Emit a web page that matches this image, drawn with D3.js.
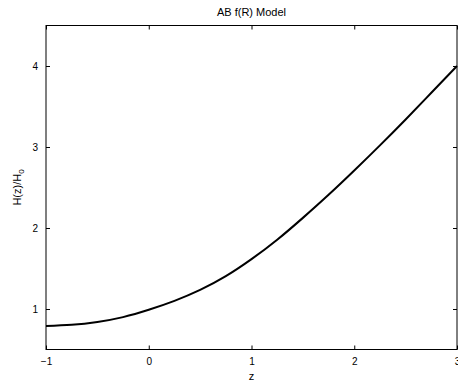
<!DOCTYPE html>
<html><head><meta charset="utf-8">
<script src="https://cdn.jsdelivr.net/npm/d3@7"></script>
<style>body{margin:0;background:#fff}svg{display:block}text{font-family:"Liberation Sans",Arial,sans-serif}</style>
</head><body>
<svg id="c" width="458" height="386"></svg>
<script>
const zValues = [-1, -0.75, -0.5, -0.25, 0, 0.25, 0.5, 0.75, 1, 1.25, 1.5, 1.75, 2, 2.25, 2.5, 2.75, 3];
const hValues = [0.790, 0.805, 0.840, 0.900, 0.990, 1.100, 1.235, 1.405, 1.615, 1.855, 2.125, 2.410, 2.710, 3.020, 3.340, 3.670, 4.0];
const xTicks = [-1, 0, 1, 2, 3];
const yTicks = [1, 2, 3, 4];
const title = "AB f(R) Model";

const svg = d3.select("#c");
const L = 46, R = 457, T = 25.5, B = 349.5;
const x = d3.scaleLinear().domain([-1, 3]).range([L, R]);
const y = d3.scaleLinear().domain([0.5, 4.5]).range([B, T]);
const fmt = d => d < 0 ? "\u2212" + Math.abs(d) : String(d);

const ax = svg.append("g").attr("font-size", 11);
ax.append("g").attr("transform", `translate(0,${B})`)
  .call(d3.axisBottom(x).tickValues(xTicks).tickSizeInner(-4).tickSizeOuter(0).tickPadding(8).tickFormat(fmt));
ax.append("g").attr("transform", `translate(0,${T})`)
  .call(d3.axisTop(x).tickValues(xTicks).tickSizeInner(-4).tickSizeOuter(0).tickFormat(""));
ax.append("g").attr("transform", `translate(${L},0)`)
  .call(d3.axisLeft(y).tickValues(yTicks).tickSizeInner(-4).tickSizeOuter(0).tickPadding(8).tickFormat(fmt));
ax.append("g").attr("transform", `translate(${R},0)`)
  .call(d3.axisRight(y).tickValues(yTicks).tickSizeInner(-4).tickSizeOuter(0).tickFormat(""));
ax.selectAll(".domain").remove();
ax.selectAll("line").attr("stroke", "#000");
ax.selectAll("text").attr("fill", "#000").attr("font-family", '"Liberation Sans",Arial,sans-serif');

svg.append("rect").attr("x", L).attr("y", T).attr("width", R - L).attr("height", B - T)
  .attr("fill", "none").attr("stroke", "#000").attr("stroke-width", 1);

const data = zValues.map((z, i) => [z, hValues[i]]);
svg.append("path").datum(data)
  .attr("fill", "none").attr("stroke", "#000").attr("stroke-width", 2)
  .attr("d", d3.line().x(d => x(d[0])).y(d => y(d[1])).curve(d3.curveNatural));

svg.append("text").attr("x", (L + R) / 2).attr("y", 16).attr("text-anchor", "middle")
  .attr("font-size", 11).text(title);
svg.append("text").attr("x", (L + R) / 2).attr("y", 380).attr("text-anchor", "middle")
  .attr("font-size", 11).text("z");
const yl = svg.append("text").attr("transform", `translate(21,${(T + B) / 2}) rotate(-90)`)
  .attr("text-anchor", "middle").attr("font-size", 11);
yl.append("tspan").text("H(z)/H");
yl.append("tspan").attr("font-size", 8).attr("dy", 3).text("0");
</script>
</body></html>
